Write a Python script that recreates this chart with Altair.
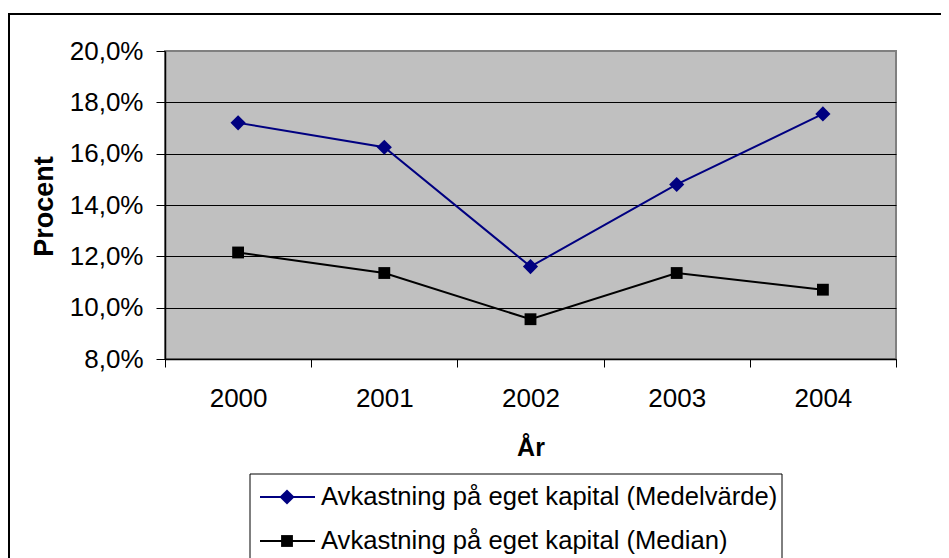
import altair as alt
import pandas as pd

years = ["2000", "2001", "2002", "2003", "2004"]
medel = [17.2, 16.25, 11.6, 14.8, 17.55]
median = [12.15, 11.35, 9.55, 11.35, 10.7]
series_names = [
    "Avkastning på eget kapital (Medelvärde)",
    "Avkastning på eget kapital (Median)",
]
series_colors = ["#000080", "#000000"]
series_shapes = ["diamond", "square"]
marker_sizes = [230, 140]
y_ticks = [0.08, 0.10, 0.12, 0.14, 0.16, 0.18, 0.20]

rows = []
for name, vals in zip(series_names, [medel, median]):
    for yr, v in zip(years, vals):
        rows.append({"year": yr, "value": v / 100, "series": name})
df = pd.DataFrame(rows)

W, H = 731, 308
FONT = "Liberation Sans"

x_enc = alt.X(
    "year:N",
    scale=alt.Scale(type="band", paddingInner=0, paddingOuter=0),
    bandPosition=0.5,
    axis=alt.Axis(
        title="År",
        labelAngle=0,
        labelFontSize=26,
        labelColor="black",
        labelPadding=18,
        tickBand="extent",
        tickSize=8,
        tickColor="black",
        domainColor="black",
        domainWidth=1.5,
        grid=False,
        titleFontSize=25,
        titleFontWeight="bold",
        titleColor="black",
        titleX=W / 2,
        titleY=96,
        titleAlign="center",
        titleBaseline="alphabetic",
    ),
)
y_enc = alt.Y(
    "value:Q",
    scale=alt.Scale(domain=[0.08, 0.20], nice=False, zero=False),
    axis=alt.Axis(
        title="Procent",
        values=y_ticks,
        labelExpr="replace(format(datum.value, '.1%'), '.', ',')",
        labelFontSize=26,
        labelColor="black",
        labelPadding=13,
        tickSize=9,
        tickColor="black",
        domainColor="black",
        domainWidth=1.5,
        grid=True,
        gridColor=alt.condition("datum.value >= 0.2", alt.value("#808080"), alt.value("black")),
        gridWidth=1,
        titleFontSize=27,
        titleFontWeight="bold",
        titleColor="black",
        titleAngle=-90,
        titleX=-113,
        titleY=155,
        titleAlign="center",
        titleBaseline="alphabetic",
    ),
)
color_enc = alt.Color(
    "series:N",
    scale=alt.Scale(domain=series_names, range=series_colors),
    legend=None,
)
shape_enc = alt.Shape(
    "series:N",
    scale=alt.Scale(domain=series_names, range=series_shapes),
    legend=None,
)
size_enc = alt.Size(
    "series:N",
    scale=alt.Scale(domain=series_names, range=marker_sizes),
    legend=None,
)

lines = alt.Chart(df).mark_line(strokeWidth=2).encode(
    x=x_enc, y=y_enc, color=color_enc, detail="series:N"
)
points = alt.Chart(df).mark_point(filled=True, opacity=1).encode(
    x=x_enc, y=y_enc, color=color_enc, shape=shape_enc, size=size_enc
)

dummy = pd.DataFrame({"a": [0]})

frame = alt.Chart(dummy).mark_rect(filled=False, stroke="black", strokeWidth=2, clip=False).encode(
    x=alt.value(-156), x2=alt.value(W + 300), y=alt.value(-37), y2=alt.value(H + 400)
)

legend_box = alt.Chart(dummy).mark_rect(fill="white", stroke="black", strokeWidth=1).encode(
    x=alt.value(85), x2=alt.value(617), y=alt.value(423), y2=alt.value(H + 400)
)

legend_layers = [legend_box]
row_y = [446, 490]
for name, col, shp, sz, ry in zip(series_names, series_colors, series_shapes, marker_sizes, row_y):
    d = pd.DataFrame({"series": [name]})
    legend_layers.append(
        alt.Chart(d).mark_rule(color=col, strokeWidth=2).encode(
            x=alt.value(95), x2=alt.value(150), y=alt.value(ry)
        )
    )
    legend_layers.append(
        alt.Chart(d).mark_point(filled=True, size=sz, opacity=1, color=col, shape=shp).encode(
            x=alt.value(122), y=alt.value(ry)
        )
    )
    legend_layers.append(
        alt.Chart(d).mark_text(
            align="left", baseline="middle", fontSize=25.6, font=FONT, color="black"
        ).encode(x=alt.value(156), y=alt.value(ry), text="series:N")
    )

chart = alt.layer(frame, lines, points, *legend_layers).properties(
    width=W,
    height=H,
    autosize=alt.AutoSizeParams(type="none"),
    padding={"left": 157, "top": 43, "right": 45, "bottom": 199},
).configure(
    font=FONT,
).configure_view(
    fill="#C0C0C0",
    stroke="#808080",
    strokeWidth=2,
)

chart.save("out.html", embed_options={"renderer": "svg", "actions": False})
